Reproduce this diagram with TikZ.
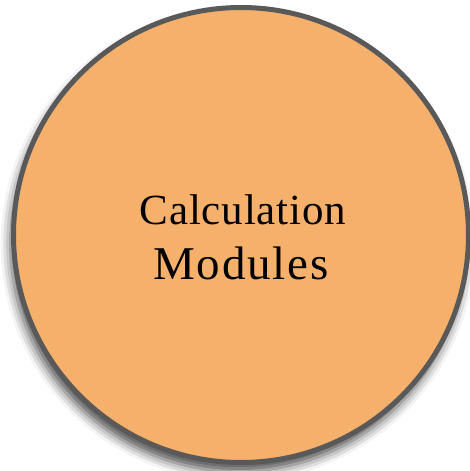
\documentclass[tikz,border=0pt]{standalone}
\usepackage{fontspec}
\setmainfont{Liberation Serif}
\newfontfamily\modfont[LetterSpace=4]{Liberation Serif}
\newfontfamily\calcfont[LetterSpace=2]{Liberation Serif}
\usetikzlibrary{shadows.blur}

\definecolor{modfill}{HTML}{F5B06B}
\definecolor{modline}{HTML}{595959}

\tikzset{
  module/.style={circle, draw=modline, fill=modfill, line width=5pt,
    minimum size=455pt, inner sep=0pt, align=center,
    blur shadow={shadow xshift=-3pt, shadow yshift=-9pt,
      shadow blur radius=10pt, shadow opacity=70}},
}

\begin{document}
\begin{tikzpicture}
  \useasboundingbox (-241pt,-236pt) rectangle (228pt,235pt);
  \node[module] (calc) at (0,0) {};
  \node[anchor=base, font=\calcfont\fontsize{43}{50}\selectfont] (top) at ([xshift=2pt, yshift=11pt]calc.center) {Calculation};
  \node[anchor=base, font=\modfont\fontsize{47}{55}\selectfont] (bot) at ([yshift=-44pt]calc.center) {Modules};
\end{tikzpicture}
\end{document}
